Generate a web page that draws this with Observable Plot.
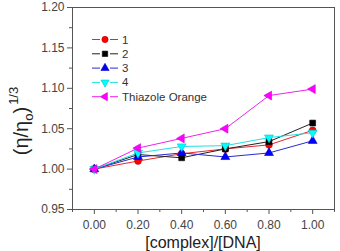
<!DOCTYPE html>
<html>
<head>
<meta charset="utf-8">
<script src="https://cdn.jsdelivr.net/npm/d3@7"></script>
<script src="https://cdn.jsdelivr.net/npm/@observablehq/plot@0.6"></script>
<style>
  html, body { margin: 0; padding: 0; background: #fff; }
  #chart svg { display: block; }
</style>
</head>
<body>
<div id="chart"></div>
<script>
// ---- data ----
const ratios = [0.0, 0.2, 0.4, 0.6, 0.8, 1.0];
const series1 = [1.000, 1.010, 1.019, 1.025, 1.030, 1.048];
const series2 = [1.000, 1.018, 1.014, 1.025, 1.034, 1.057];
const series3 = [1.000, 1.015, 1.020, 1.015, 1.020, 1.035];
const series4 = [1.000, 1.020, 1.028, 1.029, 1.039, 1.045];
const seriesTO = [1.000, 1.026, 1.038, 1.050, 1.091, 1.099];
const seriesNames = ["1", "2", "3", "4", "Thiazole Orange"];
const xTicks = [0.0, 0.2, 0.4, 0.6, 0.8, 1.0];
const yTicks = [0.95, 1.00, 1.05, 1.10, 1.15, 1.20];
const xLabel = "[complex]/[DNA]";

// ---- symbols ----
function triDir(dir) {
  return {
    draw(ctx, size) {
      const y = -Math.sqrt(size / (Math.sqrt(3) * 3));
      const s3 = Math.sqrt(3);
      if (dir === "down") {
        ctx.moveTo(0, -y * 2); ctx.lineTo(-s3 * y, y); ctx.lineTo(s3 * y, y);
      } else if (dir === "left") {
        ctx.moveTo(y * 2, 0); ctx.lineTo(-y, -s3 * y); ctx.lineTo(-y, s3 * y);
      } else {
        ctx.moveTo(0, y * 2); ctx.lineTo(-s3 * y, -y); ctx.lineTo(s3 * y, -y);
      }
      ctx.closePath();
    }
  };
}
const styles = [
  {line: "#e8262a", fill: "#ff0000", stroke: "#c00000", symbol: d3.symbolCircle, r: 3.4},
  {line: "#222222", fill: "#000000", stroke: "#000000", symbol: d3.symbolSquare, r: 3.3},
  {line: "#2a2ad0", fill: "#0000ff", stroke: "#0000c0", symbol: triDir("up"), r: 3.3},
  {line: "#20e0e0", fill: "#00ffff", stroke: "#00c8c8", symbol: triDir("down"), r: 3.3},
  {line: "#ee22ee", fill: "#ff00ff", stroke: "#d000d0", symbol: triDir("left"), r: 3.3}
];
const allSeries = [series1, series2, series3, series4, seriesTO];
const tables = allSeries.map((vals, i) =>
  ratios.map((x, j) => ({x, y: vals[j], name: seriesNames[i]})));

const fmt = d3.format(".2f");
const minorX = d3.range(-0.1, 1.101, 0.1).filter(v => Math.abs(Math.round(v * 5) - v * 5) > 0.01);
const minorY = d3.range(0.975, 1.2, 0.05);

const marks = [
  Plot.frame({stroke: "#555", strokeWidth: 1}),
  Plot.axisX(xTicks, {tickSize: 5, tickPadding: 6, tickFormat: fmt, label: null, stroke: "#555", fill: "#444", fontSize: 12}),
  Plot.axisX(minorX, {tickSize: 3, text: null, label: null, stroke: "#555"}),
  Plot.axisY(yTicks, {tickSize: 5, tickPadding: 3, tickFormat: fmt, label: null, stroke: "#555", fill: "#444", fontSize: 12}),
  Plot.axisY(minorY, {tickSize: 3, text: null, label: null, stroke: "#555"})
];
tables.forEach((t, i) => {
  const s = styles[i];
  marks.push(Plot.line(t, {x: "x", y: "y", stroke: s.line, strokeWidth: 1}));
});
tables.forEach((t, i) => {
  const s = styles[i];
  marks.push(Plot.dot(t, {x: "x", y: "y", symbol: () => s.symbol, fill: s.fill, stroke: s.stroke, strokeWidth: 0.6, r: s.r}));
});

const plot = Plot.plot({
  width: 340,
  height: 251,
  marginLeft: 72,
  marginRight: 6,
  marginTop: 7,
  marginBottom: 42,
  style: {fontFamily: "'Liberation Sans', Arial, sans-serif", background: "#fff"},
  x: {domain: [-0.1, 1.1]},
  y: {domain: [0.95, 1.2]},
  marks
});
document.getElementById("chart").appendChild(plot);

const svg = d3.select(plot);
// x axis title
svg.append("text")
  .attr("x", 203).attr("y", 248)
  .attr("text-anchor", "middle")
  .attr("font-family", "'Liberation Sans', Arial, sans-serif")
  .attr("font-size", 16).attr("fill", "#222")
  .text(xLabel);
// y axis title (η/η_o)^1/3
const yt = svg.append("text")
  .attr("transform", "translate(28,121) rotate(-90)")
  .attr("text-anchor", "middle")
  .attr("font-family", "'Liberation Sans', Arial, sans-serif")
  .attr("font-size", 20).attr("fill", "#222");
yt.append("tspan").text("(η/η");
yt.append("tspan").attr("font-size", 13).attr("dy", 5).text("o");
yt.append("tspan").attr("dy", -5).text(")");
yt.append("tspan").attr("font-size", 13).attr("dy", -10).attr("dx", 2).text("1/3");

// legend
const lg = svg.append("g")
  .attr("font-family", "'Liberation Sans', Arial, sans-serif")
  .attr("font-size", 11.5).attr("fill", "#333").attr("text-anchor", "start");
seriesNames.forEach((name, i) => {
  const s = styles[i];
  const y = 39.5 + i * 14.3;
  lg.append("line").attr("x1", 92).attr("x2", 100).attr("y1", y).attr("y2", y).attr("stroke", s.line).attr("stroke-width", 1);
  lg.append("line").attr("x1", 110).attr("x2", 118).attr("y1", y).attr("y2", y).attr("stroke", s.line).attr("stroke-width", 1);
  lg.append("path").attr("transform", `translate(105,${y})`)
    .attr("d", d3.symbol(s.symbol, Math.PI * s.r * s.r * 0.85)())
    .attr("fill", s.fill).attr("stroke", s.stroke).attr("stroke-width", 0.6);
  lg.append("text").attr("x", 122).attr("y", y).attr("dy", "0.35em").attr("text-anchor", "start").text(name);
});
</script>
</body>
</html>
